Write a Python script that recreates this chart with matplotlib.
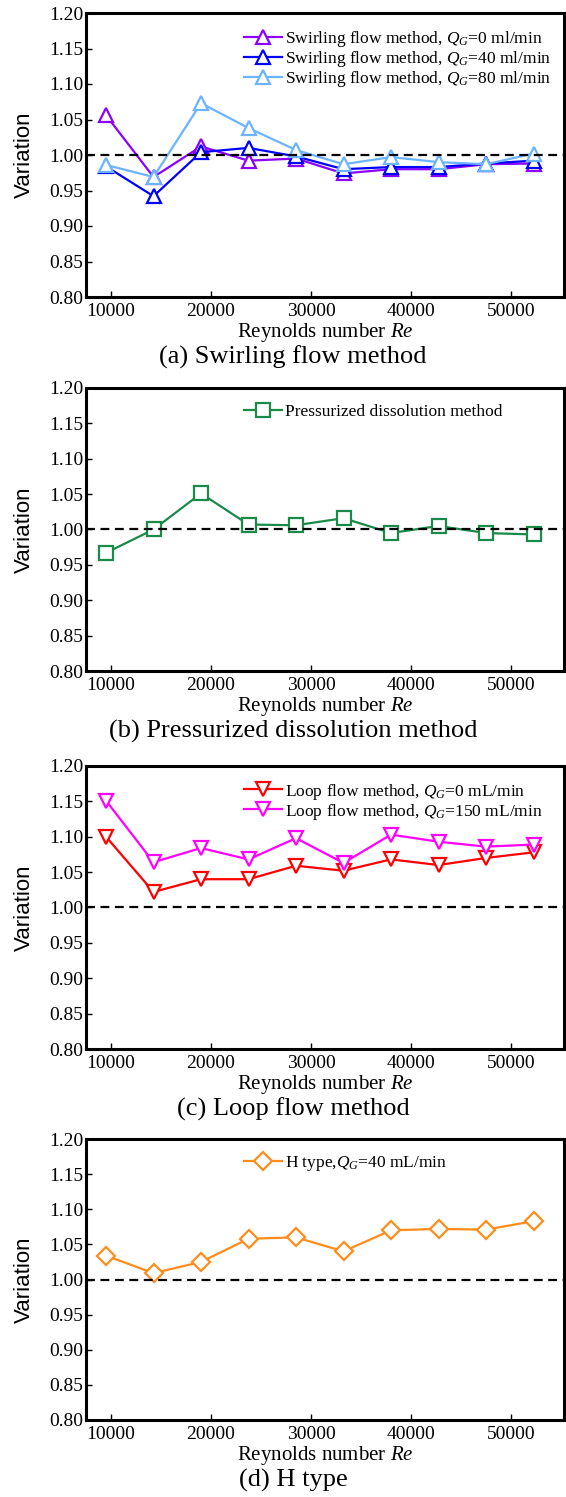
import matplotlib
matplotlib.use('Agg')
import matplotlib.pyplot as plt

plt.rcParams['font.family'] = ['Liberation Serif', 'DejaVu Serif']
plt.rcParams['mathtext.fontset'] = 'custom'
plt.rcParams['mathtext.rm'] = 'Liberation Serif'
plt.rcParams['mathtext.it'] = 'Liberation Serif:italic'

re_num = [9500, 14250, 19000, 23750, 28500, 33250, 38000, 42750, 47500, 52250]

swirl_0 = [1.056, 0.969, 1.012, 0.992, 0.995, 0.974, 0.980, 0.980, 0.987, 0.988]
swirl_40 = [0.984, 0.942, 1.004, 1.010, 0.998, 0.980, 0.983, 0.983, 0.988, 0.992]
swirl_80 = [0.986, 0.969, 1.073, 1.038, 1.007, 0.987, 0.997, 0.990, 0.987, 1.002]

pressurized = [0.967, 1.000, 1.051, 1.007, 1.006, 1.016, 0.995, 1.005, 0.995, 0.993]

loop_0 = [1.100, 1.022, 1.040, 1.040, 1.059, 1.052, 1.068, 1.060, 1.070, 1.078]
loop_150 = [1.151, 1.064, 1.084, 1.068, 1.098, 1.063, 1.103, 1.093, 1.086, 1.089]

h_type = [1.034, 1.009, 1.025, 1.058, 1.060, 1.040, 1.070, 1.072, 1.071, 1.083]

panels = [
    ('(a) Swirling flow method', [
        (swirl_0, '#8B00FF', '^', r'Swirling flow method, $Q_G$=0 ml/min'),
        (swirl_40, '#0000FF', '^', r'Swirling flow method, $Q_G$=40 ml/min'),
        (swirl_80, '#6CB4FF', '^', r'Swirling flow method, $Q_G$=80 ml/min'),
    ]),
    ('(b) Pressurized dissolution method', [
        (pressurized, '#1A8A48', 's', 'Pressurized dissolution method'),
    ]),
    ('(c) Loop flow method', [
        (loop_0, '#FF0000', 'v', r'Loop flow method, $Q_G$=0 mL/min'),
        (loop_150, '#FF00FF', 'v', r'Loop flow method, $Q_G$=150 mL/min'),
    ]),
    ('(d) H type', [
        (h_type, '#FF8C1A', 'D', r'H type,$Q_G$=40 mL/min'),
    ]),
]

# axes top/bottom in pixels (from the reference)
tops = [13, 388, 766, 1139]
bottoms = [297, 671, 1049, 1420]
W, H = 566, 1497

fig = plt.figure(figsize=(W / 100, H / 100), dpi=100)

for (caption, series), top, bot in zip(panels, tops, bottoms):
    ax = fig.add_axes([86 / W, 1 - bot / H, 478 / W, (bot - top) / H])
    for vals, color, mk, lab in series:
        ms = 9 if mk == 'D' else 10
        ax.plot(re_num, vals, color=color, marker=mk, markersize=ms,
                markerfacecolor='white', markeredgewidth=1.6, linewidth=1.6,
                label=lab)
    ax.axhline(1.0, color='black', linestyle='--', linewidth=1.6, dashes=(4, 2.5))
    ax.set_xlim(7500, 55300)
    ax.set_ylim(0.80, 1.20)
    ax.set_xticks([10000, 20000, 30000, 40000, 50000])
    ax.set_yticks([0.80, 0.85, 0.90, 0.95, 1.00, 1.05, 1.10, 1.15, 1.20])
    ax.set_yticklabels([f'{v:.2f}' for v in ax.get_yticks()])
    ax.tick_params(direction='in', length=4, width=1, labelsize=14,
                   top=False, right=False)
    ax.tick_params(axis='x', pad=4)
    ax.tick_params(axis='y', pad=2)
    for sp in ax.spines.values():
        sp.set_linewidth(2.2)
    ax.set_ylabel('Variation', family=['Liberation Sans'], fontsize=16, labelpad=10)
    ax.set_xlabel(r'Reynolds number $Re$', fontsize=15, labelpad=1)
    fig.text(293 / W, 1 - (bot + 60) / H, caption, ha='center', va='center',
             fontsize=19)
    ax.legend(loc='upper left', bbox_to_anchor=(0.33, 0.945), frameon=False,
              fontsize=12.5, handlelength=2.2, handletextpad=0.2,
              labelspacing=0.0, borderpad=0, borderaxespad=0)

fig.savefig('out.png', dpi=100)
